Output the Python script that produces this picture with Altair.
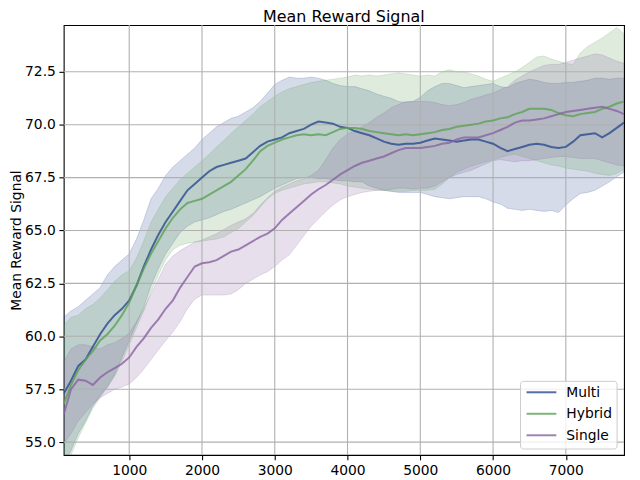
import altair as alt
import pandas as pd

# x positions (training step) for every sample
STEPS = list(range(100, 7900, 100))

TITLE = "Mean Reward Signal"
SERIES = ["Multi", "Hybrid", "Single"]
COLORS = ["#2b4a8f", "#5da156", "#8863a1"]
XTICKS = [1000, 2000, 3000, 4000, 5000, 6000, 7000]
YTICKS = [55.0, 57.5, 60.0, 62.5, 65.0, 67.5, 70.0, 72.5]

multi_mean = [57.3, 57.9, 58.6, 58.9, 59.5, 60.1, 60.6, 61.0, 61.3, 61.7,
              62.4, 63.3, 64.1, 64.8, 65.4, 65.9, 66.4, 66.9, 67.2, 67.5,
              67.8, 68.0, 68.1, 68.2, 68.3, 68.4, 68.7, 69.0, 69.2, 69.3,
              69.4, 69.6, 69.7, 69.8, 70.0, 70.15, 70.1, 70.05, 69.9, 69.85,
              69.7, 69.6, 69.5, 69.35, 69.2, 69.1, 69.05, 69.1, 69.1, 69.15,
              69.25, 69.35, 69.3, 69.25, 69.2, 69.25, 69.3, 69.3, 69.2, 69.1,
              68.9, 68.75, 68.85, 68.95, 69.05, 69.1, 69.05, 68.95, 68.9, 68.95,
              69.2, 69.5, 69.55, 69.6, 69.4, 69.6, 69.85, 70.1]
multi_upper = [60.9, 61.2, 61.4, 61.7, 62.0, 62.3, 62.9, 63.3, 63.6, 63.9,
               64.6, 65.5, 66.5, 67.0, 67.6, 68.0, 68.3, 68.6, 68.9, 69.3,
               69.6, 69.9, 70.1, 70.3, 70.4, 70.6, 70.8, 71.1, 71.5, 71.9,
               72.1, 72.25, 72.2, 72.2, 72.25, 72.2, 72.1, 71.95, 71.85, 71.8,
               71.8, 71.7, 71.6, 71.45, 71.35, 71.25, 71.1, 71.05, 71.1, 71.3,
               71.6, 71.8, 71.95, 71.95, 71.85, 71.75, 71.8, 71.85, 71.9, 71.95,
               71.8, 71.75, 71.95, 72.05, 72.15, 72.1, 72.0, 71.95, 71.95, 72.0,
               72.0, 72.05, 72.1, 72.2, 72.2, 72.15, 72.2, 72.2]
multi_lower = [54.0, 54.6, 55.4, 56.0, 56.7, 57.2, 57.6, 58.2, 59.0, 59.8,
               60.6, 61.4, 62.4, 63.2, 63.9, 64.4, 64.9, 65.2, 65.4, 65.5,
               65.6, 65.75, 65.9, 66.0, 66.15, 66.3, 66.45, 66.6, 66.8, 67.0,
               67.15, 67.3, 67.45, 67.5, 67.5, 67.45, 67.45, 67.4, 67.35, 67.35,
               67.3, 67.3, 67.1, 67.0, 66.9, 66.85, 66.8, 66.8, 66.8, 66.8,
               66.7, 66.6, 66.55, 66.5, 66.55, 66.6, 66.6, 66.6, 66.5, 66.35,
               66.25, 66.05, 66.0, 65.95, 66.0, 65.95, 65.9, 65.95, 65.85, 66.2,
               66.5, 66.75, 66.8, 66.9, 67.1, 67.3, 67.55, 67.75]

hybrid_mean = [56.8, 57.7, 58.4, 58.9, 59.3, 59.8, 60.1, 60.5, 61.0, 61.6,
               62.4, 63.2, 63.9, 64.5, 65.1, 65.6, 66.0, 66.3, 66.4, 66.5,
               66.7, 66.9, 67.1, 67.3, 67.6, 67.9, 68.3, 68.75, 69.0, 69.15,
               69.3, 69.4, 69.5, 69.55, 69.5, 69.55, 69.5, 69.65, 69.8, 69.85,
               69.85, 69.8, 69.7, 69.65, 69.6, 69.55, 69.5, 69.55, 69.5, 69.55,
               69.6, 69.65, 69.75, 69.8, 69.9, 69.95, 70.0, 70.05, 70.15, 70.2,
               70.3, 70.35, 70.5, 70.6, 70.75, 70.75, 70.75, 70.7, 70.55, 70.45,
               70.4, 70.5, 70.55, 70.6, 70.75, 70.85, 71.0, 71.1]
hybrid_upper = [60.5, 60.9, 61.0, 61.3, 61.5, 61.8, 62.2, 62.6, 62.9, 63.1,
                63.7, 64.5, 65.4, 66.0, 66.6, 67.0, 67.4, 67.7, 68.0, 68.3,
                68.6, 68.95, 69.25, 69.6, 69.9, 70.2, 70.5, 70.85, 71.1, 71.35,
                71.55, 71.7, 71.8, 71.9, 72.0, 72.05, 72.1, 72.15, 72.2, 72.25,
                72.35, 72.3, 72.35, 72.3, 72.35, 72.4, 72.45, 72.4, 72.35, 72.3,
                72.35, 72.3, 72.5, 72.6, 72.5, 72.5, 72.4, 72.3, 72.15, 72.05,
                72.2, 72.35, 72.5, 72.7, 72.95, 73.2, 73.25, 73.1, 73.0, 72.9,
                72.85, 73.4, 73.7, 73.9, 74.1, 74.35, 74.6, 74.3]
hybrid_lower = [53.8, 54.4, 55.2, 55.9, 56.6, 57.1, 57.6, 58.1, 58.8, 59.6,
                60.4, 61.2, 62.1, 62.9, 63.6, 64.1, 64.3, 64.4, 64.45, 64.5,
                64.55, 64.6, 64.7, 64.9, 65.1, 65.4, 65.7, 66.1, 66.5, 66.75,
                66.9, 67.0, 67.1, 67.2, 67.25, 67.3, 67.3, 67.25, 67.2, 67.1,
                67.05, 67.0, 66.95, 66.9, 66.9, 66.85, 66.85, 66.85, 66.9, 66.9,
                66.9, 66.95, 67.2, 67.5, 67.75, 67.9, 68.05, 68.15, 68.25, 68.35,
                68.45, 68.55, 68.6, 68.5, 68.4, 68.3, 68.2, 68.1, 68.05, 67.95,
                67.9, 67.85, 67.8, 67.7, 67.65, 67.6, 67.7, 67.9]

single_mean = [56.3, 57.5, 57.95, 57.9, 57.7, 58.05, 58.3, 58.5, 58.7, 59.0,
               59.5, 59.9, 60.4, 60.8, 61.3, 61.7, 62.3, 62.8, 63.3, 63.45,
               63.5, 63.6, 63.8, 64.0, 64.1, 64.3, 64.5, 64.7, 64.85, 65.1,
               65.5, 65.8, 66.1, 66.4, 66.7, 66.95, 67.15, 67.4, 67.65, 67.85,
               68.05, 68.2, 68.3, 68.4, 68.5, 68.65, 68.8, 68.9, 68.9, 68.9,
               68.95, 69.0, 69.1, 69.15, 69.3, 69.4, 69.4, 69.4, 69.5, 69.6,
               69.75, 69.9, 70.1, 70.2, 70.2, 70.25, 70.3, 70.4, 70.5, 70.6,
               70.65, 70.7, 70.75, 70.8, 70.85, 70.75, 70.65, 70.5]
single_upper = [58.8, 59.4, 59.6, 59.6, 59.5, 59.4, 59.6, 59.7, 59.9, 60.15,
                60.7, 61.3, 62.0, 62.7, 63.4, 63.8, 64.05, 64.25, 64.45, 64.55,
                64.7, 64.85, 65.05, 65.25, 65.4, 65.55, 65.8, 66.2, 66.55, 66.85,
                67.05, 67.2, 67.35, 67.45, 67.6, 67.85, 68.35, 68.9, 69.3, 69.55,
                69.75, 69.9, 70.1, 70.35, 70.55, 70.8, 70.95, 71.1, 71.1, 71.1,
                71.1, 71.05, 70.95, 70.9, 70.95, 71.05, 71.2, 71.3, 71.4, 71.5,
                71.65, 71.8, 72.1, 72.3, 72.5, 72.65, 72.8, 72.85, 72.85, 72.95,
                73.05, 73.15, 73.25, 73.35, 73.3, 73.15, 73.0, 72.9]
single_lower = [54.9, 55.4, 56.0, 56.4, 56.8, 57.1, 57.3, 57.5, 57.6, 57.75,
                58.05, 58.45, 58.9, 59.35, 59.8, 60.2, 60.7, 61.3, 61.75, 61.95,
                61.95, 61.95, 61.95, 62.0, 62.2, 62.5, 62.7, 62.9, 63.05, 63.3,
                63.6, 63.85, 64.3, 64.75, 65.2, 65.55, 65.9, 66.2, 66.45, 66.6,
                66.7, 66.8, 66.85, 66.9, 66.9, 66.95, 67.0, 67.0, 66.95, 67.0,
                67.0, 67.1, 67.3, 67.5, 67.65, 67.75, 67.85, 68.0, 68.15, 68.3,
                68.35, 68.3, 68.25, 68.3, 68.3, 68.35, 68.4, 68.45, 68.5, 68.5,
                68.45, 68.4, 68.4, 68.4, 68.3, 68.2, 68.1, 68.05]

rows = []
for name, mean, lo, hi in [
    ("Multi", multi_mean, multi_lower, multi_upper),
    ("Hybrid", hybrid_mean, hybrid_lower, hybrid_upper),
    ("Single", single_mean, single_lower, single_upper),
]:
    for s, m, l, h in zip(STEPS, mean, lo, hi):
        rows.append({"step": s, "series": name, "mean": m, "lower": l, "upper": h})
df = pd.DataFrame(rows)

FONT = "DejaVu Sans"
xscale = alt.Scale(domain=[100, 7800], nice=False, zero=False)
yscale = alt.Scale(domain=[54.39, 74.71], nice=False, zero=False)

base = alt.Chart(df)

bands = base.mark_area(
    fillOpacity=0.2, strokeOpacity=0.2, strokeWidth=1, clip=True
).encode(
    x=alt.X("step:Q", scale=xscale),
    y=alt.Y("lower:Q", scale=yscale),
    y2="upper:Q",
    fill=alt.Fill("series:N", scale=alt.Scale(domain=SERIES, range=COLORS), legend=None),
    stroke=alt.Stroke("series:N", scale=alt.Scale(domain=SERIES, range=COLORS), legend=None),
    detail="series:N",
)

xgrid = alt.Chart(pd.DataFrame({"v": XTICKS})).mark_rule(
    color="#b0b0b0", strokeWidth=1.1
).encode(x=alt.X("v:Q", scale=xscale))
ygrid = alt.Chart(pd.DataFrame({"v": YTICKS})).mark_rule(
    color="#b0b0b0", strokeWidth=1.1
).encode(y=alt.Y("v:Q", scale=yscale))

lines = base.mark_line(strokeWidth=2, opacity=0.8, clip=True).encode(
    x=alt.X(
        "step:Q", scale=xscale,
        axis=alt.Axis(values=XTICKS, format="d", title=None, grid=False,
                      domain=False, tickColor="black", tickSize=4.9,
                      tickWidth=1.1, labelColor="black", labelFont=FONT,
                      labelFontSize=13.9, labelPadding=3.5),
    ),
    y=alt.Y(
        "mean:Q", scale=yscale,
        axis=alt.Axis(values=YTICKS, format=".1f", title="Mean Reward Signal",
                      grid=False, domain=False, tickColor="black", tickSize=4.9,
                      tickWidth=1.1, labelColor="black", labelFont=FONT,
                      labelFontSize=13.9, labelPadding=3.5,
                      titleFont=FONT, titleFontSize=13.9, titleFontWeight="normal",
                      titleColor="black", titleX=-43, titleY=216,
                      titleAlign="center", titleBaseline="alphabetic",
                      titleAngle=270),
    ),
    color=alt.Color("series:N", scale=alt.Scale(domain=SERIES, range=COLORS),
                    legend=None),
    detail="series:N",
)

title = alt.Chart(pd.DataFrame({"t": [TITLE]})).mark_text(
    font=FONT, fontSize=16, color="black", align="center",
    baseline="alphabetic",
).encode(x=alt.value(281.5), y=alt.value(-3.5), text="t:N")

# legend box (upper-left corner inside the plot, bottom-right placement)
LEG_X, LEG_Y, LEG_W, LEG_H, ROW = 459, 358, 97, 68, 21.6
legend_layers = [
    alt.Chart(pd.DataFrame({"k": [0]})).mark_rect(
        fill="white", fillOpacity=0.8, stroke="#cccccc", strokeWidth=1,
        cornerRadius=3,
    ).encode(x=alt.value(LEG_X), x2=alt.value(LEG_X + LEG_W),
             y=alt.value(LEG_Y), y2=alt.value(LEG_Y + LEG_H))
]
for i, (name, col) in enumerate(zip(SERIES, COLORS)):
    yy = LEG_Y + 11 + i * ROW
    entry = pd.DataFrame({"series": [name]})
    legend_layers.append(
        alt.Chart(entry).mark_rule(color=col, strokeWidth=2, opacity=0.8).encode(
            x=alt.value(LEG_X + 6), x2=alt.value(LEG_X + 36), y=alt.value(yy))
    )
    legend_layers.append(
        alt.Chart(entry).mark_text(
            font=FONT, fontSize=13.9, color="black", align="left",
            baseline="middle",
        ).encode(x=alt.value(LEG_X + 46), y=alt.value(yy + 0.5), text="series:N")
    )

chart = alt.layer(bands, xgrid, ygrid, lines, title, *legend_layers).properties(
    width=563,
    height=432,
    background="white",
    autosize=alt.AutoSizeParams(type="none"),
    padding={"left": 56, "top": 16, "right": 8, "bottom": 24},
).configure_view(stroke="black", strokeWidth=1.1)

chart.save("out.html", embed_options={"renderer": "svg", "actions": False})
